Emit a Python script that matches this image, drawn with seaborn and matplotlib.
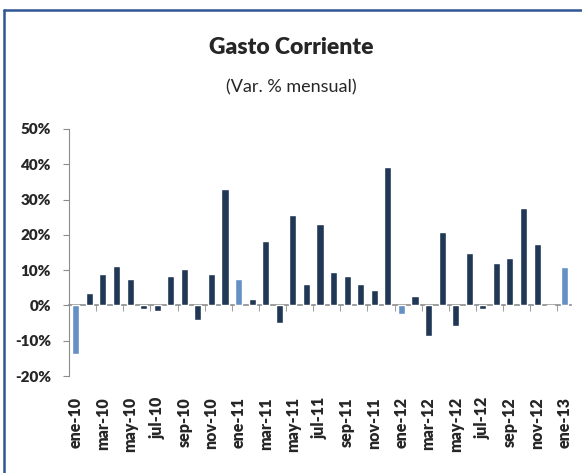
import matplotlib
matplotlib.use("Agg")
import matplotlib.pyplot as plt
import seaborn as sns
import pandas as pd
from matplotlib.lines import Line2D
from matplotlib.ticker import FixedLocator

# monthly % change, ene-10 .. ene-13
months = ["ene", "feb", "mar", "abr", "may", "jun", "jul", "ago", "sep", "oct", "nov", "dic"]
labels = [f"{m}-{y}" for y in ["10", "11", "12"] for m in months] + ["ene-13"]
values = [
    -13.7, 3.4, 8.8, 11.3, 7.4, -0.9, -1.5, 8.3, 10.3, -4.0, 8.8, 33.1,
    7.5, 1.9, 18.3, -4.9, 25.7, 6.0, 23.2, 9.5, 8.4, 6.1, 4.5, 39.1,
    -2.3, 2.6, -8.8, 20.8, -5.9, 14.9, -0.9, 11.9, 13.4, 27.7, 17.4, -0.3,
    11.0,
]
y_ticks = [-20, -10, 0, 10, 20, 30, 40, 50]

df = pd.DataFrame({"mes": labels, "var": values})
df["tipo"] = ["ene" if l.startswith("ene") else "otro" for l in labels]

sns.set_style("white")
plt.rcParams["font.family"] = ["Lato", "DejaVu Sans"]

fig = plt.figure(figsize=(5.82, 4.73), dpi=100)
ax = fig.add_axes([69 / 582, 1 - 376 / 473, 502 / 582, 247 / 473])

sns.barplot(data=df, x="mes", y="var", hue="tipo", order=labels,
            palette={"ene": "#558ED5", "otro": "#17375E"},
            dodge=False, width=0.52, legend=False, ax=ax)

ax.set_xlim(-0.5, len(labels) - 0.5)
ax.set_ylim(-20, 50)
ax.set_yticks(y_ticks)
ax.set_yticklabels([f"{t}%" for t in y_ticks], fontsize=11, fontweight="heavy")
ax.set_xlabel("")
ax.set_ylabel("")

for s in ["top", "right"]:
    ax.spines[s].set_visible(False)
ax.spines["left"].set_color("#8c8c8c")
ax.spines["bottom"].set_color("#8c8c8c")
ax.spines["bottom"].set_linewidth(1.2)
ax.spines["bottom"].set_position(("data", 0))
ax.spines["bottom"].set_zorder(0)

ax.tick_params(axis="y", which="major", direction="out", length=4, color="#8c8c8c",
               left=True, pad=9)

# labels every two months, printed at the bottom; tick marks on the zero line
ax.set_xticks(range(0, len(labels), 2))
ax.set_xticklabels(labels[::2], rotation=90, fontsize=11.5, fontweight="heavy")
ax.xaxis.set_minor_locator(FixedLocator([i + 0.5 for i in range(1, len(labels) - 1, 2)]))
ax.tick_params(axis="x", which="major", length=0, pad=66)
ax.tick_params(axis="x", which="minor", direction="out", length=4, color="#8c8c8c",
               bottom=True)
for lab in ax.get_xticklabels():
    lab.set_verticalalignment("top")

fig.text(0.5, 1 - 48 / 473, "Gasto Corriente", ha="center", va="center",
         fontsize=16.5, fontweight="heavy")
fig.text(0.5, 1 - 87 / 473, "(Var. % mensual)", ha="center", va="center", fontsize=13)

# blue frame (top and left edges visible)
fig.add_artist(Line2D([3.5 / 582, 1], [1 - 10.5 / 473, 1 - 10.5 / 473],
                      transform=fig.transFigure, color="#2F5597", lw=1.8))
fig.add_artist(Line2D([3.5 / 582, 3.5 / 582], [0, 1 - 10.5 / 473],
                      transform=fig.transFigure, color="#2F5597", lw=1.8))

fig.savefig("out.png", dpi=100)
